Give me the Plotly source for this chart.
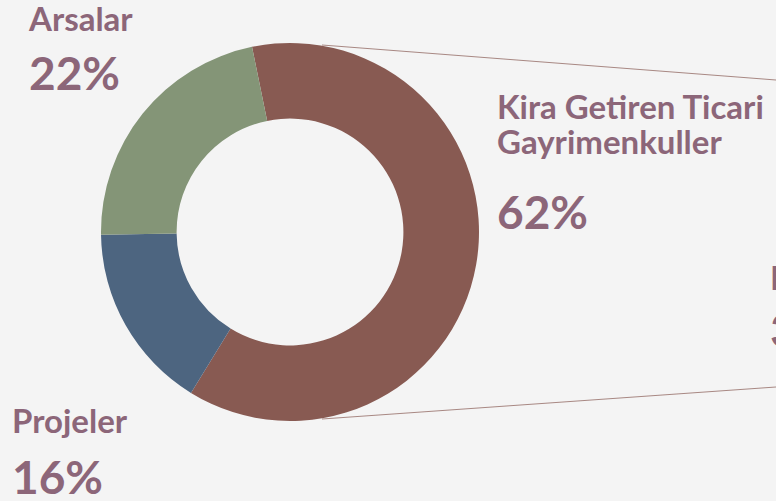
import plotly.graph_objects as go

labels = ["Kira Getiren Ticari Gayrimenkuller", "Projeler", "Arsalar"]
values = [62, 16, 22]
colors = ["#885A52", "#4D6580", "#849577"]
pct_text = ["62%", "16%", "22%"]

W, H = 776, 501
TXT = "#8C6679"
FONT = "Lato"

def px(x):
    return x / W

def py(y):
    return 1 - y / H

fig = go.Figure()
fig.add_trace(go.Pie(
    labels=labels, values=values, sort=False, direction="clockwise",
    rotation=-11.6, hole=0.60,
    marker=dict(colors=colors, line=dict(width=0)),
    textinfo="none", hoverinfo="label+percent", showlegend=False,
    domain=dict(x=[px(101), px(479)], y=[py(421), py(43)]),
))

ann = []
def label(text, x, ymid, size):
    ann.append(dict(text=f"<b>{text}</b>", x=px(x), y=py(ymid), xref="paper", yref="paper",
                    xanchor="left", yanchor="middle", showarrow=False,
                    font=dict(family=FONT, size=size, color=TXT)))

LS, PS = 33, 46
label("Arsalar", 26, 18, LS)
label(pct_text[2], 27, 73, PS)
label("Kira Getiren Ticari", 495, 106, LS)
label("Gayrimenkuller", 495, 141, LS)
label(pct_text[0], 495, 211, PS)
label(labels[1], 10, 420, LS)
label(pct_text[1], 10, 476, PS)
label("F", 768, 277, LS)
label("3", 768, 329, PS)

shapes = [
    dict(type="line", xref="paper", yref="paper", x0=px(322), y0=py(45), x1=px(776), y1=py(80),
         line=dict(color="rgba(136,90,82,0.7)", width=1)),
    dict(type="line", xref="paper", yref="paper", x0=px(322), y0=py(419), x1=px(776), y1=py(387),
         line=dict(color="rgba(136,90,82,0.7)", width=1)),
]

fig.update_layout(
    width=W, height=H, margin=dict(l=0, r=0, t=0, b=0),
    paper_bgcolor="#F4F4F4", plot_bgcolor="#F4F4F4",
    annotations=ann, shapes=shapes,
)
fig.write_html("out.html", config={"displayModeBar": False},
               post_script="document.body.style.margin='0';document.body.style.overflow='hidden';")
